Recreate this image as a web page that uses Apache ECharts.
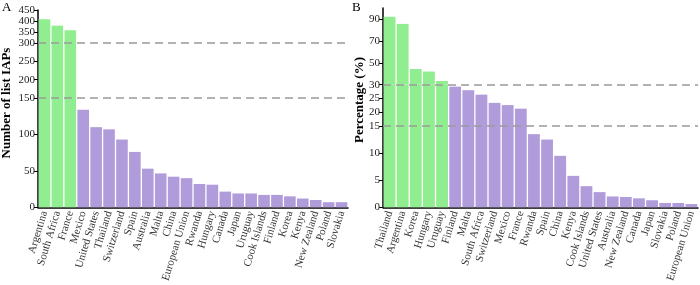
<!DOCTYPE html>
<html><head><meta charset="utf-8">
<script src="https://cdn.jsdelivr.net/npm/echarts@6/dist/echarts.min.js"></script>
<style>html,body{margin:0;padding:0;background:#fff}#c{width:700px;height:285px}</style>
</head><body><div id="c"></div>
<script>
// Panel A data
const catsA = ['Argentina','South Africa','France','Mexico','United States','Thailand','Switzerland','Spain','Australia','Malta','China','European Union','Rwanda','Hungary','Canada','Japan','Uruguay','Cook Islands','Finland','Korea','Kenya','New Zealand','Poland','Slovakia'];
const valsA = [408, 379, 358, 134, 110, 107, 93, 76, 53, 46.5, 42, 40, 32, 31, 21.5, 19, 19, 17, 17, 15, 12, 10, 7, 7];
const greenCountA = 3;
const breaksA = [0, 150, 300, 450];
const tickLabelsA = [[0, 50, 100], [150, 200, 250], [300, 350, 400, 450]];
const dashA = [150, 300];
const titleA = 'Number of list IAPs';

// Panel B data
const catsB = ['Thailand','Argentina','Korea','Hungary','Uruguay','Finland','Malta','South Africa','Switzerland','Mexico','France','Rwanda','Spain','China','Kenya','Cook Islands','United States','Australia','New Zealand','Canada','Japan','Slovakia','Poland','European Union'];
const valsB = [92, 85.5, 44.3, 42, 33.4, 29.3, 28, 26.4, 23.4, 22.6, 21.3, 13.5, 12.5, 9.5, 5.8, 3.9, 2.8, 2.0, 1.9, 1.65, 1.3, 0.8, 0.8, 0.6];
const greenCountB = 5;
const breaksB = [0, 15, 30, 100];
const tickLabelsB = [[0, 5, 10], [15, 20, 25], [30, 50, 70, 90]];
const dashB = [15, 30];
const titleB = 'Percentage (%)';

const GREEN = '#90EE90', PURPLE = '#B19CDB';
const FONT = 'Liberation Serif';

const panels = [
  {cats: catsA, vals: valsA, green: greenCountA, breaks: breaksA, ticks: tickLabelsA, dash: dashA, left: 38, width: 310, ys: [208.7, 98, 43, 10]},
  {cats: catsB, vals: valsB, green: greenCountB, breaks: breaksB, ticks: tickLabelsB, dash: dashB, left: 383, width: 315, ys: [207.3, 126, 84.7, 8]}
];

const grid = [], xAxis = [], yAxis = [], series = [];
panels.forEach((p) => {
  for (let s = 0; s < 3; s++) {
    const idx = grid.length;
    grid.push({left: p.left, width: p.width, top: p.ys[s + 1], height: p.ys[s] - p.ys[s + 1]});
    xAxis.push({
      type: 'category', gridIndex: idx, data: p.cats, show: s === 0,
      axisLine: {show: true, lineStyle: {color: '#000', width: 1.5}},
      axisTick: {show: false},
      axisLabel: {interval: 0, rotate: 73, fontFamily: FONT, fontSize: 11, color: '#333', margin: 4}
    });
    yAxis.push({
      type: 'value', gridIndex: idx, min: p.breaks[s], max: p.breaks[s + 1],
      splitLine: {show: false},
      axisLine: {show: true, onZero: false, lineStyle: {color: '#000', width: 1.5}},
      axisTick: {show: true, length: 4, lineStyle: {color: '#000', width: 1}, customValues: p.ticks[s]},
      axisLabel: {customValues: p.ticks[s], fontFamily: FONT, fontSize: 11, color: '#222', margin: 3}
    });
    series.push({
      type: 'bar', xAxisIndex: idx, yAxisIndex: idx, clip: true, silent: true,
      barCategoryGap: '10%',
      data: p.vals.map((v, i) => ({value: v, itemStyle: {color: i < p.green ? GREEN : PURPLE}}))
    });
    if (s === 1) {
      series.push({
        type: 'line', xAxisIndex: idx, yAxisIndex: idx, clip: false, silent: true, data: [],
        markLine: {
          silent: true, symbol: 'none', label: {show: false},
          lineStyle: {color: '#9a9a9a', type: [8, 5], width: 1.5},
          data: p.dash.map(d => ({yAxis: d}))
        }
      });
    }
  }
});

const chart = echarts.init(document.getElementById('c'), null, {renderer: 'canvas'});
chart.setOption({
  animation: false,
  grid, xAxis, yAxis, series,
  graphic: [
    {type: 'text', x: 7, y: 103, rotation: Math.PI / 2, style: {text: titleA, font: 'bold 13px "Liberation Serif"', fill: '#000', textAlign: 'center', textVerticalAlign: 'middle'}},
    {type: 'text', x: 360, y: 100, rotation: Math.PI / 2, style: {text: titleB, font: 'bold 13px "Liberation Serif"', fill: '#000', textAlign: 'center', textVerticalAlign: 'middle'}},
    {type: 'text', x: 2, y: 1, style: {text: 'A', font: '13px "Liberation Serif"', fill: '#000'}},
    {type: 'text', x: 352, y: 1, style: {text: 'B', font: '13px "Liberation Serif"', fill: '#000'}}
  ]
});
</script></body></html>
